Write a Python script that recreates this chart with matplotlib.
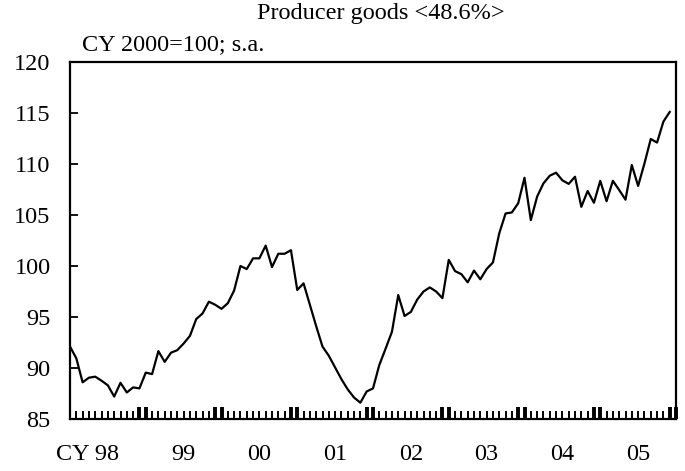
import numpy as np
import matplotlib
matplotlib.use("Agg")
import matplotlib.pyplot as plt
from matplotlib.transforms import blended_transform_factory

# monthly index, Jan 1998 .. Dec 2005
values = [
    92.1, 90.95, 88.6, 89.05, 89.15, 88.75, 88.3, 87.2, 88.55, 87.6, 88.1, 88.0,
    89.55, 89.4, 91.65, 90.6, 91.5, 91.75, 92.4, 93.15, 94.8, 95.35, 96.5, 96.2,
    95.8, 96.35, 97.6, 100.0, 99.7, 100.75, 100.75, 102.0, 99.9, 101.2, 101.2, 101.55,
    97.65, 98.3, 96.2, 94.1, 92.1, 91.2, 90.05, 88.9, 87.9, 87.1, 86.6, 87.7,
    88.0, 90.3, 91.9, 93.55, 97.15, 95.1, 95.5, 96.7, 97.5, 97.9, 97.5, 96.85,
    100.6, 99.5, 99.2, 98.4, 99.55, 98.7, 99.7, 100.35, 103.2, 105.15, 105.25, 106.15,
    108.65, 104.5, 106.8, 108.1, 108.85, 109.15, 108.4, 108.05, 108.75, 105.8, 107.35, 106.2,
    108.35, 106.35, 108.35, 107.45, 106.5, 109.9, 107.85, 110.05, 112.45, 112.1, 114.15, 115.1,
]
years = ["CY 98", "99", "00", "01", "02", "03", "04", "05"]
yticks = [85, 90, 95, 100, 105, 110, 115, 120]

plt.rcParams["font.family"] = ["Liberation Serif", "DejaVu Serif"]
fs = 17.5

fig = plt.figure(figsize=(6.85, 4.71), dpi=100)
ax = fig.add_axes([70 / 685, 52 / 471, 606 / 685, 357 / 471])

months = np.arange(len(values))
ax.plot(months, values, color="black", lw=1.6)

nmonths = 12 * len(years)
ax.set_xlim(0, nmonths)
ax.set_ylim(85, 120)

for s in ax.spines.values():
    s.set_linewidth(1.6)

ax.set_yticks(yticks)
ax.set_yticklabels([str(v) for v in yticks])
ax.tick_params(axis="y", direction="in", length=6, width=1.3, labelsize=fs, pad=14)

# month ticks along the bottom, heavier pair around each year change
ax.set_xticks([])
thin = [m for m in range(1, nmonths) if m % 12 not in (0, 11)]
thick = [m for m in range(1, nmonths + 1) if m % 12 in (0, 11)]
ax.vlines(thin, 85, 85.8, color="black", lw=1.4, clip_on=False)
ax.vlines(thick, 85, 86.2, color="black", lw=2.8, clip_on=False)

trans = blended_transform_factory(ax.transData, ax.transAxes)
for k, yr in enumerate(years):
    if k == 0:
        # first label carries the "CY" prefix, aligned so the year sits mid-year
        ax.text(12 * k + 7.7, -0.1, yr, transform=trans, ha="right", va="center", fontsize=fs)
    else:
        ax.text(12 * k + 6, -0.1, yr, transform=trans, ha="center", va="center", fontsize=fs)

fig.text(381 / 685, 1 - 13 / 471, "Producer goods <48.6%>", ha="center", va="center", fontsize=fs)
fig.text(82 / 685, 1 - 45 / 471, "CY 2000=100; s.a.", ha="left", va="center", fontsize=fs)

fig.savefig("out.png", dpi=100)
